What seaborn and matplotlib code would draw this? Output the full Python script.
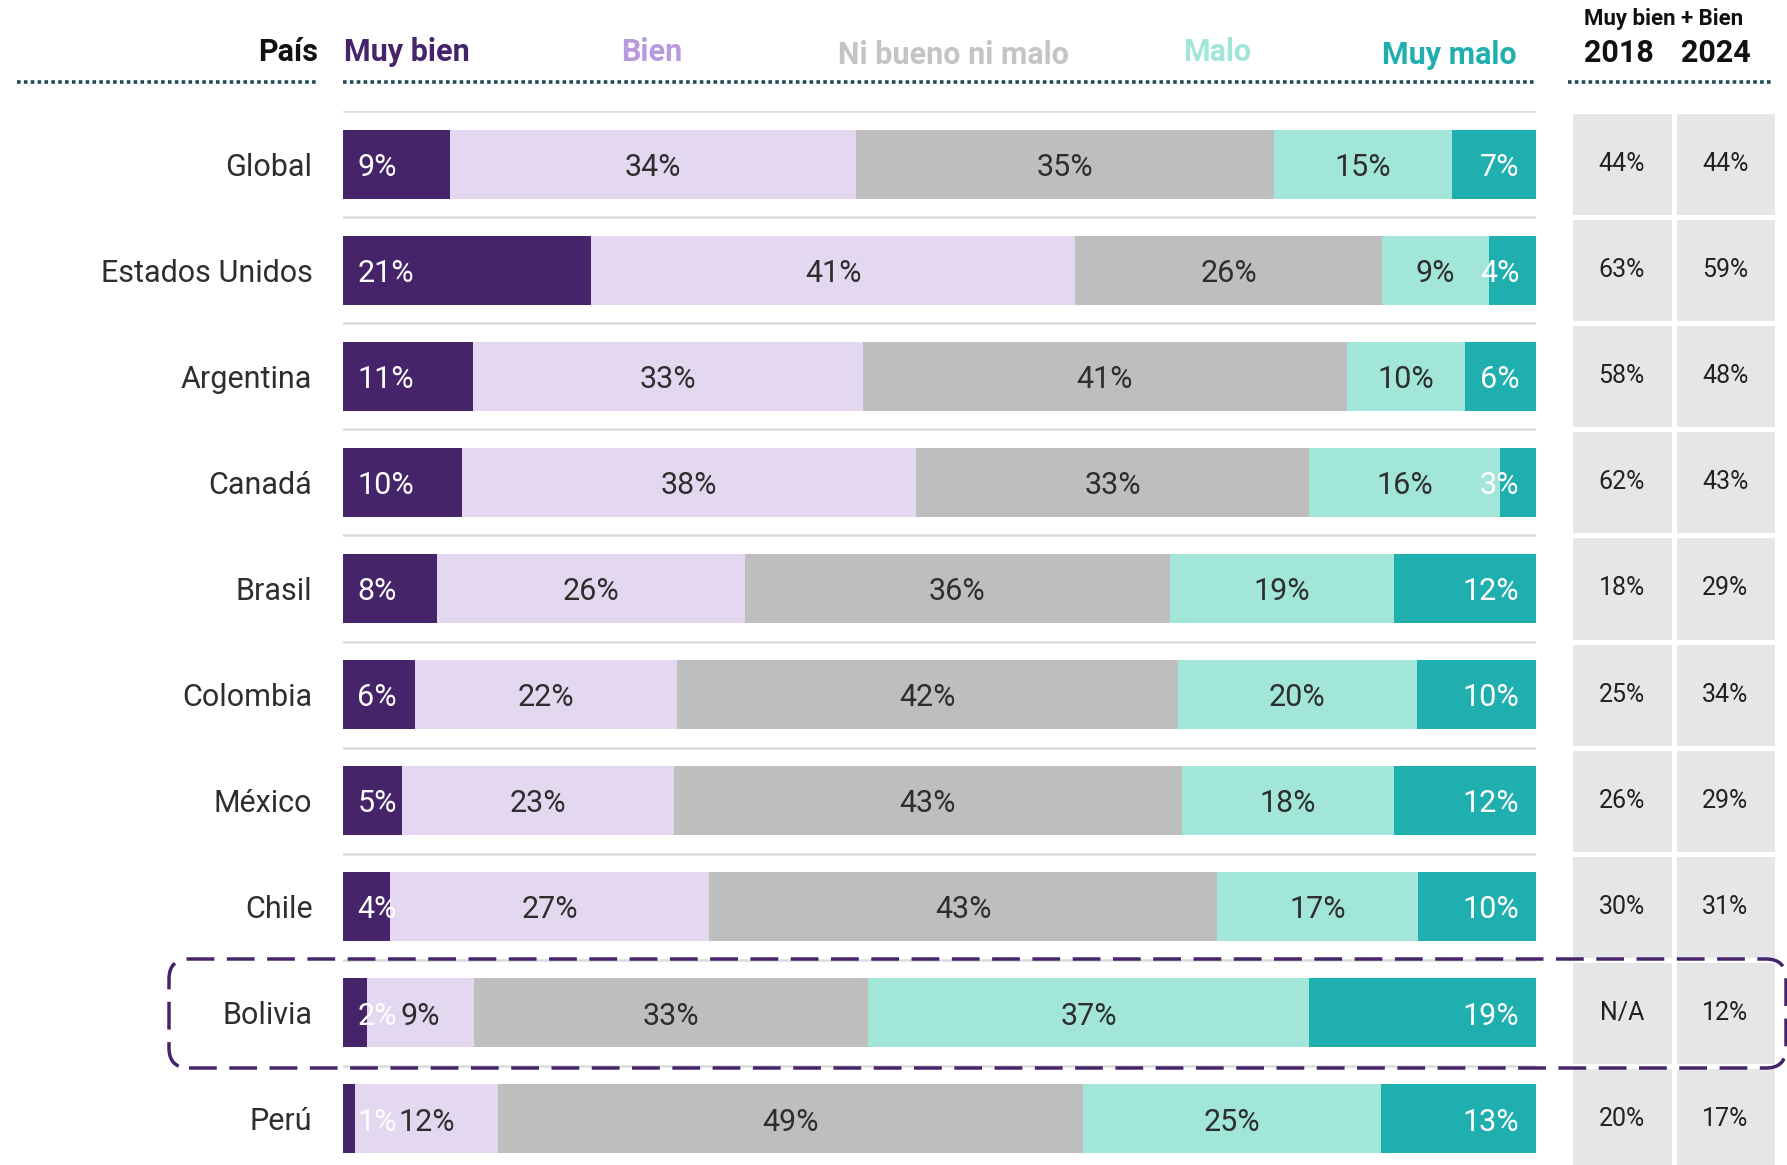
import matplotlib
matplotlib.use('Agg')
import matplotlib.pyplot as plt
import seaborn as sns
import numpy as np
import pandas as pd
from matplotlib.colors import ListedColormap
from matplotlib.patches import FancyBboxPatch
from matplotlib.lines import Line2D
from matplotlib.transforms import IdentityTransform

# datos
paises = ['Global', 'Estados Unidos', 'Argentina', 'Canadá', 'Brasil',
          'Colombia', 'México', 'Chile', 'Bolivia', 'Perú']
muy_bien = [9, 21, 11, 10, 8, 6, 5, 4, 2, 1]
bien = [34, 41, 33, 38, 26, 22, 23, 27, 9, 12]
ni_bueno = [35, 26, 41, 33, 36, 42, 43, 43, 33, 49]
malo = [15, 9, 10, 16, 19, 20, 18, 17, 37, 25]
muy_malo = [7, 4, 6, 3, 12, 10, 12, 10, 19, 13]
positivo_2018 = ['44%', '63%', '58%', '62%', '18%', '25%', '26%', '30%', 'N/A', '20%']
positivo_2024 = ['44%', '59%', '48%', '43%', '29%', '34%', '29%', '31%', '12%', '17%']

categorias = ['Muy bien', 'Bien', 'Ni bueno ni malo', 'Malo', 'Muy malo']
colores = ['#45246a', '#e3d8ef', '#bebebe', '#a1e6d8', '#1eafae']
colores_header = ['#45246a', '#b99ade', '#c4c4c4', '#a1e6d8', '#1eafae']
colores_texto = ['white', '#2e2e2e', '#2e2e2e', '#2e2e2e', 'white']

sns.set_theme(style='white')
plt.rcParams['font.family'] = ['Roboto', 'DejaVu Sans']
HEAD_FONT = ['Liberation Sans Narrow', 'Roboto', 'DejaVu Sans']

W, H = 1787, 1165
fig = plt.figure(figsize=(W / 100, H / 100), dpi=100)


def fx(px):
    return px / W


def fy(py):
    return 1 - py / H


# tabla de porcentajes normalizada (cada fila suma 100)
df = pd.DataFrame({'País': paises, 'Muy bien': muy_bien, 'Bien': bien,
                   'Ni bueno ni malo': ni_bueno, 'Malo': malo, 'Muy malo': muy_malo})
vals = df[categorias].to_numpy(dtype=float)
vals = vals / vals.sum(axis=1, keepdims=True) * 100
acum = np.cumsum(vals, axis=1)

# =====================================================================
# barras apiladas
# =====================================================================
top_px, bot_px = 111, 1165
ax = fig.add_axes([fx(343), 0, (1536 - 343) / W, (bot_px - top_px) / H])
for k in range(len(categorias) - 1, -1, -1):
    sns.barplot(x=acum[:, k], y=paises, color=colores[k], orient='h',
                width=0.65, saturation=1, linewidth=0, ax=ax)

n_rows_visible = (bot_px - top_px) / 106.1
ax.set_ylim(n_rows_visible - 0.5, -0.5)
ax.set_xlim(0, 100)
ax.set_xlabel('')
ax.set_ylabel('')
ax.set_xticks([])
sns.despine(ax=ax, left=True, bottom=True)
ax.tick_params(axis='y', length=0, pad=22, labelsize=22, labelcolor='#2e2e2e')

for i in range(len(paises)):
    ax.axhline(i - 0.5, color='#dcdcdc', lw=1.8, zorder=0)

for i in range(len(paises)):
    for k in range(len(categorias)):
        v = df[categorias[k]].iloc[i]
        left = acum[i, k] - vals[i, k]
        if k == 0:
            x, ha = left + 1.2, 'left'
        elif k == len(categorias) - 1:
            x, ha = 98.6, 'right'
        else:
            x, ha = left + vals[i, k] / 2, 'center'
        ax.text(x, i + 0.03, f'{v}%', ha=ha, va='center', fontsize=22,
                color=colores_texto[k], zorder=5)

# =====================================================================
# tabla Muy bien + Bien
# =====================================================================
ax2 = fig.add_axes([fx(1570), 0, (1777 - 1570) / W, (bot_px - top_px) / H])
annot = np.array([positivo_2018, positivo_2024]).T
sns.heatmap(np.zeros((len(paises), 2)), cmap=ListedColormap(['#e6e6e8']), cbar=False,
            annot=annot, fmt='', annot_kws={'fontsize': 18, 'color': '#222222'},
            linewidths=2.5, linecolor='white', xticklabels=False, yticklabels=False, ax=ax2)
ax2.set_ylim(n_rows_visible, 0)

# =====================================================================
# encabezados
# =====================================================================
fig.text(fx(318), fy(52), 'País', ha='right', va='center', fontsize=22,
         fontweight='bold', color='#111111', family=HEAD_FONT)
head_x = [(344, 'left'), (652, 'center'), (953, 'center'), (1217, 'center'), (1517, 'right')]
head_y = [52, 52, 55, 52, 55]
for k, cat in enumerate(categorias):
    fig.text(fx(head_x[k][0]), fy(head_y[k]), cat, ha=head_x[k][1], va='center',
             fontsize=22, fontweight='bold', color=colores_header[k], family=HEAD_FONT)

fig.text(fx(1664), fy(19), 'Muy bien + Bien', ha='center', va='center', fontsize=16,
         fontweight='bold', color='#111111', family=HEAD_FONT)
fig.text(fx(1619), fy(53), '2018', ha='center', va='center', fontsize=22,
         fontweight='bold', color='#111111', family=HEAD_FONT)
fig.text(fx(1716), fy(53), '2024', ha='center', va='center', fontsize=22,
         fontweight='bold', color='#111111', family=HEAD_FONT)

for x0, x1 in [(17, 316), (343, 1536), (1568, 1772)]:
    fig.add_artist(Line2D([fx(x0), fx(x1)], [fy(82), fy(82)], transform=fig.transFigure,
                          color='#1f4a5a', lw=2.6, linestyle=(0, (1, 0.9)),
                          dash_capstyle='butt'))

# recuadro Bolivia
caja = FancyBboxPatch((169, H - 1068), 1617, 109,
                      boxstyle='round,pad=0,rounding_size=20',
                      transform=IdentityTransform(), fill=False,
                      edgecolor='#45246a', lw=2.5, linestyle=(0, (8, 3.6)), zorder=10)
fig.add_artist(caja)

plt.savefig('out.png', dpi=100)
plt.close()
